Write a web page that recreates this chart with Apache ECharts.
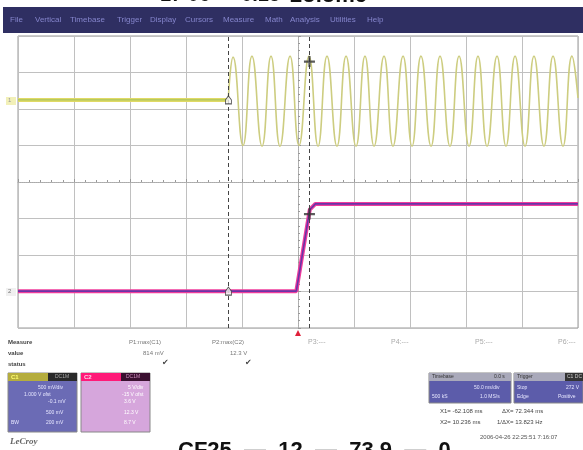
<!DOCTYPE html>
<html>
<head>
<meta charset="utf-8">
<script src="https://cdn.jsdelivr.net/npm/echarts@6/dist/echarts.min.js"></script>
<style>
  html, body { margin: 0; padding: 0; background: #ffffff; }
  #scope { width: 583px; height: 450px; }
</style>
</head>
<body>
<div id="scope"></div>
<script>
// Horizontal axis: time in ms (50 ms/div, trigger at centre). Vertical axis: screen divisions.
const timeMin = -250, timeMax = 250, timeStep = 50;
const divMin = -4, divMax = 4, divStep = 1;

// Channel 1 (yellow): flat before the switch-on, then the 60 Hz waveform (peaks and troughs)
const ch1FlatTime  = [-250, -62.3];
const ch1FlatLevel = [2.25, 2.25];
const ch1Time  = [-62.3, -58.0, -49.1, -41.1, -32.1, -24.1, -16.1, -7.1, 0.9, 9.8, 17.9, 25.9, 34.8,
                  42.9, 51.8, 59.8, 67.9, 76.8, 84.8, 93.8, 101.8, 109.8, 118.8, 126.8, 135.7, 143.8,
                  152.7, 160.7, 168.8, 177.7, 185.7, 193.8, 202.7, 210.7, 219.6, 227.7, 236.6, 244.6, 250];
const ch1Level = [2.25, 3.42, 1.0, 3.45, 0.98, 3.45, 0.98, 3.45, 1.0, 3.45, 0.98, 3.45, 0.98,
                  3.45, 0.98, 3.45, 0.98, 3.45, 0.98, 3.45, 0.98, 3.45, 0.98, 3.45, 0.98, 3.45,
                  0.98, 3.45, 0.98, 3.45, 0.98, 3.45, 0.98, 3.45, 0.98, 3.45, 0.98, 3.45, 2.3];

// Channel 2 (magenta): low level, ramp after the trigger, then settled high
const ch2Time  = [-250, -1.5, 10.5, 15.5, 250];
const ch2Level = [-2.99, -2.99, -0.76, -0.6, -0.6];

// Cursor positions (ms) and their readouts
const cursorX1 = -62.108, cursorX2 = 10.236;
const cursorMarks = [[cursorX1, 2.25, 'x1'], [cursorX1, -2.99, 'x1'], [cursorX2, 3.3, 'x2'], [cursorX2, -0.88, 'x2']];

const menuItems = ['File', 'Vertical', 'Timebase', 'Trigger', 'Display', 'Cursors', 'Measure', 'Math', 'Analysis', 'Utilities', 'Help'];
const menuX     = [10, 35, 70, 117, 150, 185, 223, 265, 290, 330, 367];
const paramLabels = ['P3:---', 'P4:---', 'P5:---', 'P6:---'];
const paramX      = [308, 391, 475, 558];

const zip = (a, b) => a.map((v, i) => [v, b[i]]);

const chart = echarts.init(document.getElementById('scope'), null, { renderer: 'canvas' });

const FONT = '"Liberation Sans", Arial, sans-serif';
const txt = (x, y, text, opt = {}) => ({
  type: 'text', left: x, top: y, silent: true,
  style: Object.assign({ text, fill: '#555', font: '6px ' + FONT }, opt)
});
const box = (x, y, w, h, fill, stroke) => ({
  type: 'rect', shape: { x, y, width: w, height: h }, silent: true,
  style: { fill, stroke: stroke || null, lineWidth: 1 }
});

const graphics = [];
// Title strip (cut off at the top edge)
graphics.push(txt(160, -15, '17 06 — 0.15 — ', { fill: '#111', font: 'bold 20px ' + FONT }));
graphics.push(txt(290, -15, '2olomc', { fill: '#111', font: 'bold 22px ' + FONT }));
// Menu bar
graphics.push(box(3, 7, 580, 26, '#2f2f62'));
menuItems.forEach((m, i) => graphics.push(txt(menuX[i], 16, m, { fill: '#8585cc', font: '8px ' + FONT })));
// Parameter labels under the grid
paramLabels.forEach((p, i) => graphics.push(txt(paramX[i], 339, p, { fill: '#aaa', font: '7px ' + FONT })));

// Measurement table
graphics.push(txt(8, 339, 'Measure', { font: 'bold 6px ' + FONT, fill: '#444' }));
graphics.push(txt(8, 350, 'value',   { font: 'bold 6px ' + FONT, fill: '#444' }));
graphics.push(txt(8, 361, 'status',  { font: 'bold 6px ' + FONT, fill: '#444' }));
graphics.push(txt(129, 339, 'P1:max(C1)', { fill: '#777' }));
graphics.push(txt(212, 339, 'P2:max(C2)', { fill: '#777' }));
graphics.push(txt(143, 350, '814 mV', { fill: '#777' }));
graphics.push(txt(230, 350, '12.3 V', { fill: '#777' }));
graphics.push(txt(162, 359, '✔', { font: '8px "DejaVu Sans", sans-serif', fill: '#444' }));
graphics.push(txt(245, 359, '✔', { font: '8px "DejaVu Sans", sans-serif', fill: '#444' }));

// Channel 1 descriptor box
const f5 = '5px ' + FONT;
graphics.push(box(8, 373, 69, 59, '#6b6bb5', '#888'));
graphics.push(box(8, 373, 40, 8, '#b5ad3e'));
graphics.push(box(48, 373, 29, 8, '#2a2a2a'));
graphics.push(txt(11, 374, 'C1', { fill: '#ffff70', font: 'bold 6px ' + FONT }));
graphics.push(txt(55, 374, 'DC1M', { fill: '#aaa', font: f5 }));
graphics.push(txt(38, 385, '500 mV/div',   { fill: '#e6e6ff', font: f5 }));
graphics.push(txt(24, 392, '1.000 V ofst', { fill: '#e6e6ff', font: f5 }));
graphics.push(txt(48, 399, '-0.1 mV',      { fill: '#e6e6ff', font: f5 }));
graphics.push(txt(46, 410, '500 mV',       { fill: '#e6e6ff', font: f5 }));
graphics.push(txt(46, 420, '200 mV',       { fill: '#e6e6ff', font: f5 }));
graphics.push(txt(11, 420, 'BW',           { fill: '#e6e6ff', font: f5 }));

// Channel 2 descriptor box
graphics.push(box(81, 373, 69, 59, '#d6a6dc', '#888'));
graphics.push(box(81, 373, 40, 8, '#ff1a78'));
graphics.push(box(121, 373, 29, 8, '#3a1030'));
graphics.push(txt(84, 374, 'C2', { fill: '#ffd0e8', font: 'bold 6px ' + FONT }));
graphics.push(txt(126, 374, 'DC1M', { fill: '#d090c0', font: f5 }));
graphics.push(txt(128, 385, '5 V/div',    { fill: '#fff', font: f5 }));
graphics.push(txt(122, 392, '-15 V ofst', { fill: '#fff', font: f5 }));
graphics.push(txt(124, 399, '3.6 V',      { fill: '#fff', font: f5 }));
graphics.push(txt(124, 410, '12.3 V',     { fill: '#fff', font: f5 }));
graphics.push(txt(124, 420, '8.7 V',      { fill: '#fff', font: f5 }));

// Timebase and trigger boxes
graphics.push(box(429, 373, 82, 30, '#5c5caa', '#888'));
graphics.push(box(429, 373, 82, 8, '#a9a9ba'));
graphics.push(txt(432, 374, 'Timebase', { fill: '#333', font: f5 }));
graphics.push(txt(494, 374, '0.0 s',    { fill: '#333', font: f5 }));
graphics.push(txt(474, 385, '50.0 ms/div', { fill: '#e6e6ff', font: f5 }));
graphics.push(txt(432, 394, '500 kS',      { fill: '#e6e6ff', font: f5 }));
graphics.push(txt(480, 394, '1.0 MS/s',    { fill: '#e6e6ff', font: f5 }));
graphics.push(box(514, 373, 69, 30, '#5c5caa', '#888'));
graphics.push(box(514, 373, 69, 8, '#a9a9ba'));
graphics.push(box(565, 373, 18, 8, '#333'));
graphics.push(txt(517, 374, 'Trigger', { fill: '#333', font: f5 }));
graphics.push(txt(567, 374, 'C1 DC', { fill: '#ccc', font: f5 }));
graphics.push(txt(517, 385, 'Stop', { fill: '#e6e6ff', font: f5 }));
graphics.push(txt(566, 385, '272 V', { fill: '#e6e6ff', font: f5 }));
graphics.push(txt(517, 394, 'Edge', { fill: '#e6e6ff', font: f5 }));
graphics.push(txt(558, 394, 'Positive', { fill: '#e6e6ff', font: f5 }));

// Cursor readouts
const f6 = '6px ' + FONT;
graphics.push(txt(440, 408, 'X1= ' + cursorX1.toFixed(3) + ' ms', { fill: '#444', font: f6 }));
graphics.push(txt(502, 408, 'ΔX= ' + (cursorX2 - cursorX1).toFixed(3) + ' ms', { fill: '#444', font: f6 }));
graphics.push(txt(440, 419, 'X2= ' + cursorX2.toFixed(3) + ' ms', { fill: '#444', font: f6 }));
graphics.push(txt(497, 419, '1/ΔX= ' + (1000 / (cursorX2 - cursorX1)).toFixed(3) + ' Hz', { fill: '#444', font: f6 }));
graphics.push(txt(480, 434, '2006-04-26 22:25:51 7:16:07', { fill: '#555', font: f6 }));

// Logo and the caption cut off at the bottom edge
graphics.push(txt(10, 437, 'LeCroy', { fill: '#666', font: 'italic bold 9px "Liberation Serif", serif' }));
graphics.push(txt(178, 440, 'CF25  —  12  —  73.9  —  0', { fill: '#111', font: 'bold 22px ' + FONT }));

// Channel offset tags at the left edge
graphics.push(box(6, 97, 10, 8, '#f2f0b8'));
graphics.push(txt(8, 97, '1', { fill: '#999', font: f6 }));
graphics.push(box(6, 288, 10, 8, '#f0f0f0'));
graphics.push(txt(8, 288, '2', { fill: '#777', font: f6 }));

const option = {
  backgroundColor: '#ffffff',
  animation: false,
  grid: { left: 18, right: 5, top: 36, bottom: 122, show: true, borderColor: '#999', borderWidth: 1, backgroundColor: '#ffffff' },
  xAxis: {
    type: 'value', min: timeMin, max: timeMax, interval: timeStep,
    axisLine: { show: true, onZero: true, lineStyle: { color: '#aaa', type: 'dotted' } },
    axisTick: { show: true, inside: true, length: 3, lineStyle: { color: '#999' } },
    minorTick: { show: true, splitNumber: 5, length: 2, lineStyle: { color: '#999' } },
    axisLabel: { show: false },
    splitLine: { show: true, lineStyle: { color: '#c0c0c0', width: 1 } }
  },
  yAxis: {
    type: 'value', min: divMin, max: divMax, interval: divStep,
    axisLine: { show: true, onZero: true, lineStyle: { color: '#aaa', type: 'dotted' } },
    axisTick: { show: true, inside: true, length: 3, lineStyle: { color: '#999' } },
    minorTick: { show: true, splitNumber: 5, length: 2, lineStyle: { color: '#999' } },
    axisLabel: { show: false },
    splitLine: { show: true, lineStyle: { color: '#c0c0c0', width: 1 } }
  },
  series: [
    {
      name: 'C1 flat', type: 'line', data: zip(ch1FlatTime, ch1FlatLevel), showSymbol: false, z: 3,
      lineStyle: { color: '#e0da66', width: 4 }
    },
    {
      name: 'C1 flat core', type: 'line', data: zip(ch1FlatTime, ch1FlatLevel), showSymbol: false, z: 4,
      lineStyle: { color: '#9fbf5a', width: 1 }
    },
    {
      name: 'C1', type: 'line', data: zip(ch1Time, ch1Level), showSymbol: false, smooth: true, z: 3,
      lineStyle: { color: '#cdcd80', width: 1.6 }
    },
    {
      name: 'C2 edge', type: 'line', data: zip(ch2Time, ch2Level), showSymbol: false, z: 3,
      lineStyle: { color: '#f03c9c', width: 4 }
    },
    {
      name: 'C2', type: 'line', data: zip(ch2Time, ch2Level), showSymbol: false, z: 4,
      lineStyle: { color: '#6a34a8', width: 1.6 },
      markLine: {
        silent: true, symbol: 'none', label: { show: false },
        lineStyle: { color: '#444', type: [4, 3], width: 1 },
        data: [{ xAxis: cursorX1 }, { xAxis: cursorX2 }]
      },
      markPoint: {
        silent: true, symbol: 'triangle', symbolSize: [6, 6], symbolOffset: [0, 5],
        itemStyle: { color: '#e0203a' }, label: { show: false },
        data: [{ coord: [0, divMin] }]
      }
    },
    {
      name: 'cursors', type: 'scatter', z: 6,
      data: cursorMarks.map(c => ({
        value: [c[0], c[1]],
        symbol: c[2] === 'x1' ? 'path://M5,0 L10,5 L10,10 L0,10 L0,5 Z' : 'path://M4,0h2v4h4v2h-4v4h-2v-4h-4v-2h4z',
        symbolSize: c[2] === 'x1' ? [6, 8] : [11, 11],
        itemStyle: c[2] === 'x1' ? { color: '#f4f4f4', borderColor: '#333', borderWidth: 1 } : { color: '#333' }
      }))
    }
  ],
  graphic: graphics
};
chart.setOption(option);
</script>
</body>
</html>
